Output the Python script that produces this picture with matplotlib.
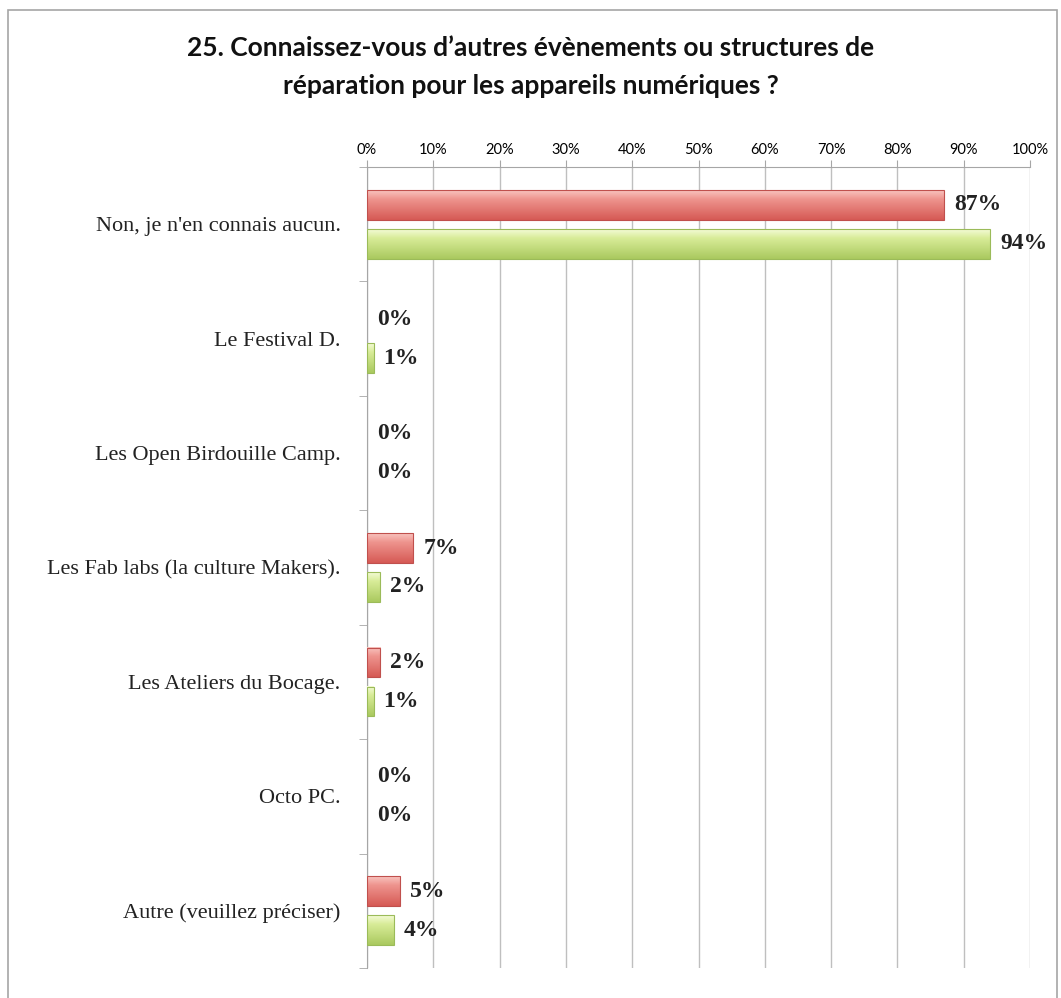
import numpy as np
import matplotlib.pyplot as plt
from matplotlib.patches import Rectangle
from matplotlib.colors import LinearSegmentedColormap

categories = [
    "Non, je n'en connais aucun.",
    "Le Festival D.",
    "Les Open Birdouille Camp.",
    "Les Fab labs (la culture Makers).",
    "Les Ateliers du Bocage.",
    "Octo PC.",
    "Autre (veuillez préciser)",
]
series_red = [87, 0, 0, 7, 2, 0, 5]
series_green = [94, 1, 0, 2, 1, 0, 4]
x_ticks = list(range(0, 101, 10))
title = "25. Connaissez-vous d\u2019autres évènements ou structures de\nréparation pour les appareils numériques ?"

red_cmap = LinearSegmentedColormap.from_list(
    'r', [(0, '#f9c4bf'), (0.3, '#ee948e'), (1, '#d65a55')])
green_cmap = LinearSegmentedColormap.from_list(
    'g', [(0, '#f4fbd6'), (0.3, '#d8ec98'), (1, '#aac95f')])

fig = plt.figure(figsize=(10.61, 9.98), dpi=100)
ax = fig.add_axes([367 / 1061, 1 - 968 / 998, 663 / 1061, 801 / 998])

# outer frame of the original slide
fig.patches.append(Rectangle((8 / 1061, -0.05), 1049 / 1061, 1.05 - 10 / 998,
                             transform=fig.transFigure, fill=False,
                             edgecolor='#a6a6a6', linewidth=1.2))

y = np.arange(len(categories))
off = 0.17
h = 0.26
grad = np.linspace(0, 1, 64).reshape(-1, 1)


def shaded_bars(vals, pos, cmap, edge):
    # bars with a vertical gradient fill, zero values left empty
    bars = ax.barh(pos, vals, height=h, color='none',
                   edgecolor=[edge if v > 0 else 'none' for v in vals],
                   linewidth=0.8, zorder=4)
    for b, v in zip(bars, vals):
        if v <= 0:
            continue
        x0, y0 = b.get_x(), b.get_y()
        ax.imshow(grad, cmap=cmap, aspect='auto', zorder=3,
                  extent=(x0, x0 + b.get_width(), y0 + b.get_height(), y0))
    return bars


shaded_bars(series_red, y - off, red_cmap, '#c0504d')
shaded_bars(series_green, y + off, green_cmap, '#9bbb59')

for yi, v in zip(y, series_red):
    ax.text(v + 1.5, yi - off, f"{v}%", va='center', ha='left', color='#222222',
            family='Liberation Serif', fontweight='bold', fontsize=17)
for yi, v in zip(y, series_green):
    ax.text(v + 1.5, yi + off, f"{v}%", va='center', ha='left', color='#222222',
            family='Liberation Serif', fontweight='bold', fontsize=17)

ax.set_xlim(0, 100)
ax.set_ylim(len(categories) - 0.5, -0.5)
ax.set_xticks(x_ticks)
ax.set_xticklabels([f"{t}%" for t in x_ticks], family='Lato', fontsize=10.5)
ax.xaxis.tick_top()
ax.tick_params(axis='x', length=5, color='#a6a6a6', pad=2)
ax.set_yticks(y)
ax.set_yticklabels(categories, family='Liberation Serif', fontsize=16, color='#222222')
ax.set_yticks(np.arange(len(categories) + 1) - 0.5, minor=True)
ax.tick_params(axis='y', which='major', length=0, pad=19)
ax.tick_params(axis='y', which='minor', length=6, color='#a6a6a6')
ax.grid(axis='x', color='#bfbfbf', linewidth=1, zorder=0)
for s in ['right', 'bottom']:
    ax.spines[s].set_visible(False)
for s in ['top', 'left']:
    ax.spines[s].set_color('#a6a6a6')

fig.text(0.5, 1 - 67 / 998, title, ha='center', va='center', family='Lato',
         fontweight='bold', fontsize=19, linespacing=1.7, color='#111111')

fig.savefig('out.png', dpi=100)
